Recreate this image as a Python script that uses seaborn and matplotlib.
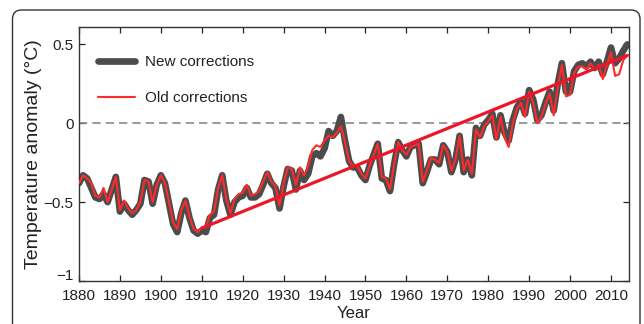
import numpy as np
import pandas as pd
import matplotlib
matplotlib.use("Agg")
import matplotlib.pyplot as plt
from matplotlib.patches import FancyBboxPatch
from matplotlib.transforms import IdentityTransform, ScaledTranslation
import seaborn as sns

# Annual global temperature anomalies (deg C), 1880-2014
years = list(range(1880, 2015))

new_corrections = [
    -0.38, -0.33, -0.35, -0.41, -0.47, -0.48, -0.45, -0.50, -0.42, -0.34,  # 1880s
    -0.56, -0.51, -0.55, -0.58, -0.55, -0.51, -0.36, -0.37, -0.51, -0.39,  # 1890s
    -0.33, -0.38, -0.51, -0.64, -0.69, -0.57, -0.49, -0.60, -0.68, -0.70,  # 1900s
    -0.68, -0.69, -0.60, -0.58, -0.42, -0.33, -0.49, -0.58, -0.50, -0.47,  # 1910s
    -0.46, -0.41, -0.47, -0.47, -0.45, -0.39, -0.32, -0.38, -0.41, -0.54,  # 1920s
    -0.40, -0.29, -0.30, -0.42, -0.30, -0.36, -0.32, -0.21, -0.19, -0.21,  # 1930s
    -0.16, -0.05, -0.08, -0.05, 0.04, -0.11, -0.24, -0.28, -0.28, -0.33,   # 1940s
    -0.36, -0.27, -0.20, -0.13, -0.35, -0.36, -0.43, -0.26, -0.12, -0.17,  # 1950s
    -0.21, -0.15, -0.14, -0.13, -0.38, -0.31, -0.23, -0.23, -0.26, -0.14,  # 1960s
    -0.18, -0.31, -0.23, -0.08, -0.31, -0.23, -0.33, -0.03, -0.08, -0.01,  # 1970s
    0.02, 0.06, -0.09, 0.05, -0.06, -0.11, 0.02, 0.10, 0.14, 0.06,         # 1980s
    0.21, 0.15, 0.02, 0.05, 0.13, 0.20, 0.08, 0.25, 0.38, 0.20,            # 1990s
    0.20, 0.33, 0.37, 0.38, 0.36, 0.39, 0.35, 0.39, 0.31, 0.39,            # 2000s
    0.48, 0.38, 0.41, 0.46, 0.50,                                          # 2010-2014
]

old_corrections = [
    -0.38, -0.33, -0.35, -0.38, -0.46, -0.47, -0.41, -0.50, -0.42, -0.34,
    -0.55, -0.49, -0.54, -0.57, -0.55, -0.50, -0.36, -0.37, -0.50, -0.39,
    -0.33, -0.38, -0.50, -0.63, -0.67, -0.55, -0.49, -0.59, -0.67, -0.69,
    -0.66, -0.66, -0.58, -0.56, -0.41, -0.33, -0.48, -0.57, -0.48, -0.45,
    -0.44, -0.39, -0.46, -0.45, -0.43, -0.37, -0.31, -0.37, -0.40, -0.52,
    -0.38, -0.28, -0.29, -0.39, -0.28, -0.33, -0.27, -0.17, -0.14, -0.15,
    -0.11, -0.08, -0.09, -0.06, -0.02, -0.12, -0.24, -0.27, -0.27, -0.32,
    -0.35, -0.27, -0.20, -0.13, -0.34, -0.35, -0.42, -0.26, -0.12, -0.17,
    -0.20, -0.15, -0.14, -0.13, -0.37, -0.30, -0.22, -0.23, -0.25, -0.14,
    -0.18, -0.30, -0.23, -0.08, -0.30, -0.23, -0.32, -0.04, -0.09, -0.02,
    0.01, 0.05, -0.10, 0.04, -0.09, -0.15, 0.00, 0.09, 0.13, 0.04,
    0.20, 0.13, 0.00, 0.04, 0.12, 0.19, 0.05, 0.23, 0.37, 0.17,
    0.18, 0.32, 0.36, 0.36, 0.34, 0.38, 0.34, 0.37, 0.28, 0.37,
    0.45, 0.30, 0.31, 0.40, 0.43,
]

# Linear trend, 1910-2014
trend_years = [1910, 2014]
trend_values = [-0.665, 0.43]

x_ticks = list(range(1880, 2011, 10))
y_ticks = [-1, -0.5, 0, 0.5]
y_tick_labels = ["\u22121", "\u22120.5", "0", "0.5"]

sns.set_style("ticks")
plt.rcParams["font.family"] = ["Liberation Sans", "DejaVu Sans"]

df = pd.DataFrame({
    "Year": years + years,
    "Anomaly": new_corrections + old_corrections,
    "Series": ["New corrections"] * len(years) + ["Old corrections"] * len(years),
})
trend_df = pd.DataFrame({"Year": trend_years, "Anomaly": trend_values})

fig = plt.figure(figsize=(6.44, 3.24), dpi=100)
ax = fig.add_axes([79 / 644, 1 - 281 / 324, 550 / 644, 254 / 324])

ax.axhline(0, color="#8a8a8a", lw=1.2, dashes=(5, 3), zorder=1)

sns.lineplot(data=df[df.Series == "New corrections"], x="Year", y="Anomaly",
             color="#4c4c4c", lw=4.8, label="New corrections", ax=ax, zorder=2,
             solid_joinstyle="round", solid_capstyle="round")
sns.lineplot(data=df[df.Series == "Old corrections"], x="Year", y="Anomaly",
             color="#ff2a2a", lw=1.5, label="Old corrections", ax=ax, zorder=3)
sns.lineplot(data=trend_df, x="Year", y="Anomaly", color="#ee1528", lw=2.3,
             ax=ax, zorder=4, legend=False)

ax.set_xlim(1880, 2014.4)
ax.set_ylim(-1, 0.61)
ax.set_xticks(x_ticks)
ax.set_yticks(y_ticks)
ax.set_yticklabels(y_tick_labels)
ax.tick_params(direction="in", length=4, width=0.9, top=True, right=True,
               labelsize=11, colors="#222222")
ax.tick_params(axis="x", pad=6)
ax.tick_params(axis="y", pad=4)
for s in ax.spines.values():
    s.set_color("#333333")
    s.set_linewidth(1.0)

# lift the bottom y label clear of the first year label
for lbl in ax.get_yticklabels():
    if lbl.get_text() == "\u22121":
        lbl.set_transform(lbl.get_transform() + ScaledTranslation(0, 5 / 72, fig.dpi_scale_trans))

ax.set_xlabel("Year", fontsize=12, color="#222222", labelpad=2)
ax.set_ylabel("Temperature anomaly (\u00b0C)", fontsize=14, color="#222222", labelpad=1)

leg = ax.legend(loc="upper left", frameon=False, fontsize=11, handlelength=2.4,
                handletextpad=0.7, labelspacing=1.45,
                bbox_to_anchor=(0.018, 0.925), borderaxespad=0.2)
for t in leg.get_texts():
    t.set_color("#222222")

# rounded outer frame
frame = FancyBboxPatch((12.5, -30), 627.5, 344, boxstyle="round,pad=0,rounding_size=9",
                       transform=IdentityTransform(), fill=False, ec="#333333", lw=1.0)
fig.add_artist(frame)

fig.savefig("out.png", dpi=100)
